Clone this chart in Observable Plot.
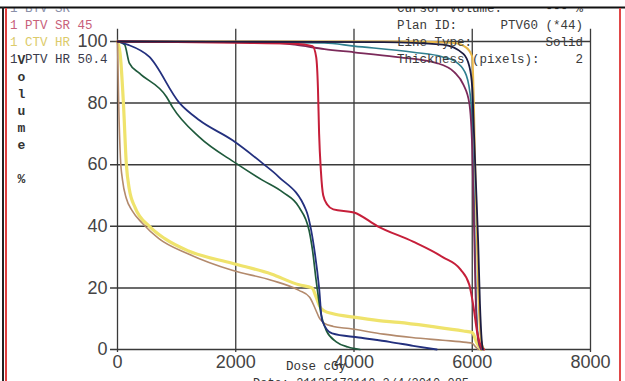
<!DOCTYPE html>
<html><head><meta charset="utf-8">
<script src="https://cdn.jsdelivr.net/npm/d3@7"></script>
<script src="https://cdn.jsdelivr.net/npm/@observablehq/plot@0.6"></script>
<style>body{margin:0;background:#fff}svg{display:block}</style>
</head><body><div id="chart"></div>
<script>
const xTicks = [0, 2000, 4000, 6000, 8000];
const yTicks = [0, 20, 40, 60, 80, 100];

const legendLeft = ["1 BTV SR", "1 PTV SR 45", "1 CTV HR", "1 PTV HR 50.4"];
const legendLeftColors = ["#8a8fa8", "#c8607a", "#dccb6a", "#3a3a4a"];
const infoLabels = ["Cursor Volume:", "Plan ID:", "Line Type:", "Thickness (pixels):"];
const infoValues = ["--- %", "PTV60 (*44)", "Solid", "2"];

// DVH curves: dose (cGy) / volume (%)
const redDose = [0, 1000, 2000, 3000, 3300, 3360, 3390, 3410, 3440, 3480, 3550, 3650, 4000, 4400, 5000, 5500, 5800, 5950, 6020, 6080, 6150, 6200];
const redVol  = [100, 99.8, 99.6, 99.3, 98.5, 95, 85, 70, 58, 50, 47, 45.5, 44.5, 40, 35, 30, 26, 21, 14, 6, 1, 0];

const purpleDose = [0, 2500, 3000, 3500, 4000, 4700, 5400, 5700, 5850, 5950, 6000, 6030, 6060, 6100, 6150];
const purpleVol  = [100, 99.8, 99, 97.5, 96.5, 95, 93, 90, 86, 80, 65, 40, 15, 3, 0];

const tealDose = [0, 3500, 4000, 5000, 5500, 5750, 5900, 5980, 6030, 6060, 6100, 6150];
const tealVol  = [100, 99.5, 98.5, 96.5, 95, 93, 89, 80, 50, 20, 4, 0];

const darkDose = [0, 4500, 5500, 5850, 5950, 6000, 6030, 6060, 6100, 6130, 6160, 6180];
const darkVol  = [100, 99.8, 99, 96, 92, 85, 70, 55, 35, 15, 3, 0];

const orangeDose = [0, 5000, 5700, 5900, 6000, 6050, 6100, 6150, 6200];
const orangeVol  = [100, 100, 99.5, 98, 95, 60, 20, 3, 0];

const yellowDose = [0, 50, 100, 150, 200, 300, 540, 800, 1200, 1940, 2600, 3070, 3290, 3360, 3420, 3500, 3630, 4000, 4420, 4760, 5300, 5850, 6000, 6080, 6150];
const yellowVol  = [100, 95, 80, 60, 52, 46, 40, 36, 32, 28, 24.5, 21, 20, 17, 14, 12.5, 11.7, 10.5, 9.4, 8.8, 7.5, 6, 5.5, 2, 0];

const tanDose = [0, 20, 50, 85, 150, 250, 420, 700, 1200, 1940, 2600, 3070, 3250, 3350, 3420, 3500, 3650, 3920, 4500, 4980, 5500, 5900, 6000, 6050, 6100];
const tanVol  = [100, 80, 62, 55, 49, 45, 41, 36, 31, 25.7, 22.5, 19.2, 17, 13, 10, 8.5, 7.5, 6.8, 5, 3.9, 3, 2.3, 2, 1, 0];

const greenDose = [0, 120, 200, 370, 830, 930, 1380, 2000, 2450, 2800, 3070, 3240, 3300, 3360, 3440, 3530, 3700, 3900, 4100];
const greenVol  = [100, 99, 93, 89.7, 82, 78.7, 69, 60.5, 55, 51, 46.2, 38.7, 32, 22.4, 11.7, 6.2, 2.5, 0.8, 0];

const navyDose = [0, 170, 540, 1050, 1380, 1940, 2450, 2730, 3190, 3325, 3410, 3460, 3630, 4080, 4600, 5000, 5400];
const navyVol  = [100, 99, 95, 80, 74.5, 68, 60.5, 56, 45.2, 33, 20, 9.4, 5.2, 3.9, 2.5, 1.2, 0];

const series = [
  {dose: orangeDose, vol: orangeVol, color: "#e8b84a", width: 2},
  {dose: yellowDose, vol: yellowVol, color: "#efe36c", width: 3.2},
  {dose: tanDose, vol: tanVol, color: "#b38a6c", width: 1.6},
  {dose: greenDose, vol: greenVol, color: "#1f5a3c", width: 1.7},
  {dose: navyDose, vol: navyVol, color: "#23307e", width: 1.8},
  {dose: tealDose, vol: tealVol, color: "#2f7f8f", width: 1.6},
  {dose: purpleDose, vol: purpleVol, color: "#7b2a5a", width: 1.8},
  {dose: redDose, vol: redVol, color: "#c61f3a", width: 2},
  {dose: darkDose, vol: darkVol, color: "#1c1c40", width: 1.8}
];

const tickFont = "'Liberation Sans Narrow', 'Liberation Sans', sans-serif";
const monoFont = "'Liberation Mono', 'DejaVu Sans Mono', monospace";

const plot = Plot.plot({
  width: 625, height: 381,
  marginLeft: 117, marginRight: 35, marginTop: 41, marginBottom: 32,
  x: {domain: [0, 8000], axis: null},
  y: {domain: [0, 100], axis: null},
  style: {background: "#fff"},
  marks: [
    Plot.ruleY(yTicks, {x1: -118, x2: 8000, stroke: "#3a3a3a", strokeWidth: 1.5}),
    Plot.ruleX(xTicks, {y1: -1, y2: 104, stroke: "#3a3a3a", strokeWidth: 1.3}),
    ...series.map(s => Plot.line(s.dose.map((d, i) => ({dose: d, vol: s.vol[i]})),
      {x: "dose", y: "vol", stroke: s.color, strokeWidth: s.width, curve: "monotone-x"})),
    Plot.text(xTicks, {x: d => d, y: 0, dy: 13, text: d => String(d), fontSize: 18, fontFamily: tickFont, fill: "#444"}),
    Plot.text(yTicks, {x: 0, y: d => d, dx: -10, textAnchor: "end", text: d => String(d), fontSize: 18, fontFamily: tickFont, fill: "#444"})
  ]
});
document.getElementById("chart").append(plot);

const svg = d3.select(plot);
// left legend
const gl = svg.append("g").attr("font-family", monoFont).attr("font-size", 12.5).attr("text-anchor", "start");
legendLeft.forEach((t, i) => {
  gl.append("text").attr("x", 10).attr("y", 8 + i * 17).attr("dy", "0.35em")
    .attr("fill", legendLeftColors[i]).text(t);
});
// right info block
const gr = svg.append("g").attr("font-family", monoFont).attr("font-size", 12.5).attr("fill", "#3a3a3a").attr("text-anchor", "start");
infoLabels.forEach((t, i) => {
  gr.append("text").attr("x", 397).attr("y", 8 + i * 17).attr("dy", "0.35em").text(t);
  gr.append("text").attr("x", 583).attr("y", 8 + i * 17).attr("dy", "0.35em")
    .attr("text-anchor", "end").text(infoValues[i]);
});
// vertical y label
const yLabel = "Volume %";
const gy = svg.append("g").attr("font-family", monoFont).attr("font-size", 13).attr("fill", "#333").attr("font-weight", "bold");
yLabel.split("").forEach((c, i) => {
  gy.append("text").attr("x", 21.5).attr("y", 59 + i * 17).attr("dy", "0.35em").attr("text-anchor", "middle").text(c);
});
// x label and footer
svg.append("text").attr("x", 316).attr("y", 366).attr("dy", "0.35em").attr("text-anchor", "middle")
  .attr("font-family", monoFont).attr("font-size", 12.5).attr("fill", "#333").text("Dose cGy");
svg.append("text").attr("x", 253).attr("y", 383).attr("dy", "0.35em").attr("text-anchor", "start")
  .attr("font-family", monoFont).attr("font-size", 12).attr("fill", "#333").text("Date: 21125172110 2/4/2010 085");
// frame
svg.append("rect").attr("x", 0).attr("y", 0).attr("width", 625).attr("height", 7).attr("fill", "#fff");
svg.append("line").attr("x1", 0).attr("x2", 625).attr("y1", 7.5).attr("y2", 7.5).attr("stroke", "#111").attr("stroke-width", 2);
svg.append("line").attr("x1", 3).attr("x2", 3).attr("y1", 7).attr("y2", 381).attr("stroke", "#222").attr("stroke-width", 2);
svg.append("line").attr("x1", 6).attr("x2", 6).attr("y1", 8).attr("y2", 381).attr("stroke", "#e04040").attr("stroke-width", 2);
svg.append("line").attr("x1", 620).attr("x2", 620).attr("y1", 8).attr("y2", 381).attr("stroke", "#e04848").attr("stroke-width", 2);
</script>
</body></html>
